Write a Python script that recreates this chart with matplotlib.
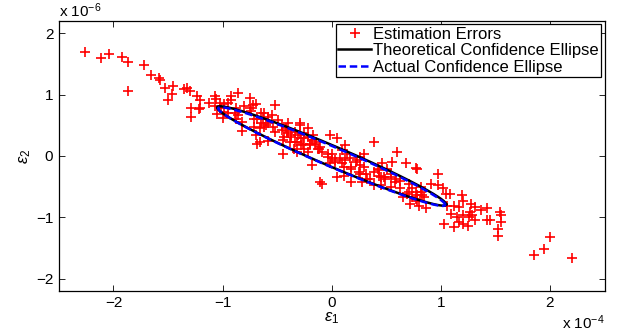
import numpy as np
import matplotlib
matplotlib.use("Agg")
import matplotlib.pyplot as plt

plt.rcParams['font.family'] = ['Liberation Sans', 'DejaVu Sans']
plt.rcParams['mathtext.fontset'] = 'custom'
plt.rcParams['mathtext.rm'] = 'Liberation Sans'
plt.rcParams['mathtext.it'] = 'Liberation Sans:italic'

# estimation errors: eps1 in units of 1e-4, eps2 in units of 1e-6
eps1 = [
    -2.26, -2.11, -2.04, -1.92, -1.87, -1.87, -1.72, -1.66, -1.58, -1.57,
    -1.53, -1.45, -1.50, -1.46, -1.35, -1.33, -1.30, -1.23, -1.21, -1.29,
    -1.21, -1.22, -1.29, -1.12, -1.07, -1.06, -1.07, -0.99, -0.92, -0.86,
    -1.05, -1.00, -0.95, -0.88, -0.86, -1.02, -1.01, -0.99, -0.75, -0.69,
    -0.80, -0.74, -0.52, -0.65, -0.89, -0.88, -0.71, -0.63, -0.58, -0.65,
    -0.54, -0.62, -0.82, -0.69, -0.66, -0.58, -0.52, -0.46, -0.42, -0.29,
    -0.40, -0.44, -0.37, -0.29, -0.25, -0.17, -0.34, -0.28, -0.20, -0.14,
    -0.13, -0.22, -0.45, -0.32, -0.18, -0.11, -0.11, -0.02, 0.05, 0.12,
    0.00, 0.03, 0.09, -0.03, -0.09, 0.05, 0.18, 0.18, 0.23, 0.26,
    0.30, 0.30, 0.26, 0.28, 0.39, 0.39, 0.32, 0.46, 0.43, 0.45,
    0.51, 0.49, 0.55, 0.54, 0.60, 0.58, 0.63, 0.68, 0.65, 0.71,
    0.78, 0.74, 0.82, 0.78, 0.91, 0.97, 0.72, 0.80, 0.86, 0.77,
    0.83, 0.97, 0.71, 0.82, 1.02, 1.05, 1.08, 1.19, 1.20, 1.28,
    1.31, 1.37, 1.42, 1.06, 1.12, 1.17, 1.09, 1.15, 1.20, 1.26,
    1.29, 1.31, 1.42, 1.45, 1.54, 1.55, 1.55, 1.52, 1.52, 1.03,
    1.12, 1.17, 1.25, 1.85, 2.00, 1.95, 2.20, -0.62, -0.58, -0.55,
    -0.60, -0.49, -0.46, -0.41, -0.40, -0.37, -0.34, -0.31, -0.28, -0.25,
    -0.22, -0.18, -0.20, -0.26, -0.32, -0.38, -0.45, -0.35, -0.25, -0.15,
    -0.12, -0.09, -0.03, 0.00, 0.03, -0.02, -0.29, -0.22, 0.77, 0.08,
    0.12, 0.17, 0.22, 0.26, 0.11, 0.18, 0.25, 0.31, 0.39, 0.43,
    0.48, 0.42, 0.54, 0.59, 0.35, 0.45, 0.54, 0.63, 0.69, 0.74,
    0.11, 0.09, 0.14, -0.95, -0.92, -0.72, -0.75, -0.82, -0.68, -0.71,
    -0.66, -0.68, 0.77, 0.85, 0.78, 1.27, 1.20,
]
eps2 = [
    1.70, 1.59, 1.67, 1.61, 1.54, 1.06, 1.48, 1.32, 1.27, 1.24,
    1.11, 1.14, 0.91, 1.01, 1.10, 1.11, 1.06, 0.97, 0.91, 0.79,
    0.79, 0.76, 0.63, 0.86, 0.98, 0.93, 0.81, 0.85, 0.98, 1.02,
    0.68, 0.62, 0.70, 0.79, 0.67, 0.87, 0.78, 0.71, 0.94, 0.85,
    0.81, 0.74, 0.83, 0.70, 0.70, 0.61, 0.61, 0.61, 0.54, 0.53,
    0.48, 0.48, 0.41, 0.34, 0.23, 0.25, 0.39, 0.42, 0.45, 0.53,
    0.53, 0.31, 0.34, 0.37, 0.29, 0.34, 0.23, 0.18, 0.20, 0.23,
    0.12, 0.07, 0.03, 0.07, -0.15, -0.43, 0.15, 0.34, 0.29, 0.18,
    0.04, -0.07, -0.12, -0.02, -0.45, -0.34, -0.43, -0.18, -0.07, -0.02,
    0.04, -0.18, -0.29, -0.43, 0.23, -0.48, -0.37, -0.12, -0.23, -0.34,
    -0.21, -0.37, -0.10, -0.34, 0.07, -0.43, -0.40, -0.12, -0.67, -0.59,
    -0.21, -0.53, -0.51, -0.64, -0.45, -0.29, -0.78, -0.81, -0.85, -0.70,
    -0.64, -0.48, -0.45, -0.59, -0.53, -0.62, -0.62, -0.64, -0.73, -0.78,
    -0.84, -0.88, -0.85, -0.82, -0.82, -0.84, -0.94, -1.00, -0.97, -1.00,
    -0.97, -1.04, -1.04, -1.04, -0.92, -0.97, -1.08, -1.19, -1.30, -1.11,
    -1.16, -1.08, -1.14, -1.62, -1.32, -1.52, -1.66, 0.70, 0.64, 0.67,
    0.50, 0.59, 0.50, 0.40, 0.37, 0.31, 0.39, 0.34, 0.29, 0.37,
    0.31, 0.26, 0.18, 0.20, 0.23, 0.23, 0.26, 0.12, 0.12, 0.20,
    0.12, 0.07, 0.04, -0.04, -0.10, -0.12, 0.50, 0.45, -0.20, -0.04,
    -0.07, -0.04, -0.10, -0.14, -0.18, -0.21, -0.26, -0.29, -0.26, -0.32,
    -0.34, -0.21, -0.29, -0.37, -0.37, -0.48, -0.51, -0.53, -0.62, -0.67,
    -0.32, 0.09, 0.04, 0.86, 0.91, 0.83, 0.78, 0.56, 0.61, 0.48,
    0.45, 0.20, -0.59, -0.67, -0.73, -0.92, -1.11,
]

# confidence ellipses: center and shape matrix (x in 1e-4, y in 1e-6)
theory_center = [0.0, 0.0]
theory_shape = [[1.05, 0.0], [-0.79, 0.18]]
actual_center = [0.0, -0.01]
actual_shape = [[1.04, 0.0], [-0.785, 0.175]]

x_ticks = [-2, -1, 0, 1, 2]
y_ticks = [-2, -1, 0, 1, 2]


def ellipse(center, shape, n=300):
    t = np.linspace(0, 2 * np.pi, n)
    L = np.array(shape)
    pts = L @ np.vstack([np.cos(t), np.sin(t)])
    return pts[0] + center[0], pts[1] + center[1]


fig = plt.figure(figsize=(6.2, 3.34), dpi=100)
ax = fig.add_axes([0.095, 0.129, 0.880, 0.808])

ax.plot(eps1, eps2, '+', color='red', markersize=7, mew=1.2,
        label='Estimation Errors', zorder=2)
tx, ty = ellipse(theory_center, theory_shape)
ax.plot(tx, ty, '-', color='black', lw=1.8, label='Theoretical Confidence Ellipse', zorder=3)
axx, axy = ellipse(actual_center, actual_shape)
ax.plot(axx, axy, '--', color='blue', lw=1.8, dashes=(3, 1.5),
        label='Actual Confidence Ellipse', zorder=4)

ax.set_xlim(-2.5, 2.5)
ax.set_ylim(-2.2, 2.2)
ax.set_xticks(x_ticks)
ax.set_yticks(y_ticks)
ax.set_xticklabels(['\u2212%d' % -v if v < 0 else '%d' % v for v in x_ticks])
ax.set_yticklabels(['\u2212%d' % -v if v < 0 else '%d' % v for v in y_ticks])
ax.tick_params(direction='in', length=4, width=0.6, top=True, right=True,
               labelsize=11, pad=4, colors='black')
for s in ax.spines.values():
    s.set_linewidth(0.9)

ax.set_xlabel(r'$\varepsilon_1$', fontsize=12, labelpad=0)
ax.set_ylabel(r'$\varepsilon_2$', fontsize=12, labelpad=2)

ax.text(0.0, 1.005, r'x 10$^{-6}$', transform=ax.transAxes, ha='left', va='bottom', fontsize=11)
ax.text(1.0, -0.085, r'x 10$^{-4}$', transform=ax.transAxes, ha='right', va='top', fontsize=11)

leg = ax.legend(loc='upper right', fontsize=12, frameon=True, fancybox=False,
                borderpad=0.15, labelspacing=0.08, handlelength=2.0,
                handletextpad=0.1, borderaxespad=0.2, framealpha=1)
leg.get_frame().set_edgecolor('black')
leg.get_frame().set_linewidth(0.9)

fig.savefig('out.png', dpi=100)
